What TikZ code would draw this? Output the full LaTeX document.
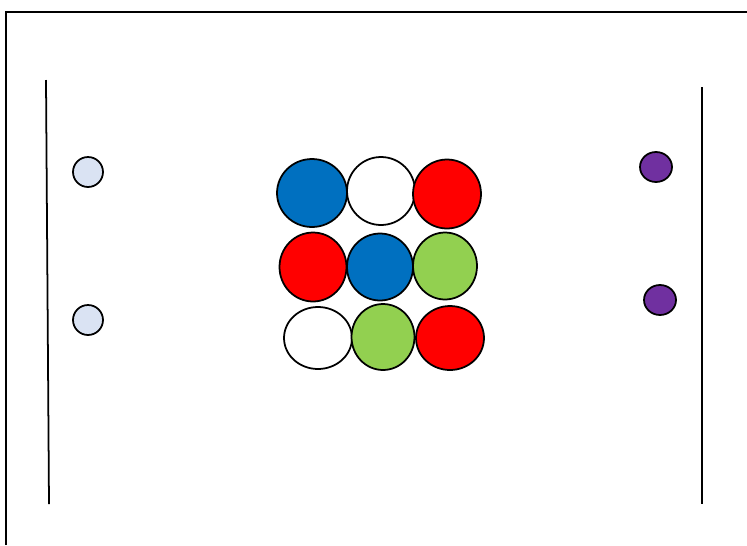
\documentclass[tikz,border=0pt]{standalone}
\usetikzlibrary{shapes.geometric}
\definecolor{bl}{RGB}{0,112,192}
\definecolor{rd}{RGB}{255,0,0}
\definecolor{gr}{RGB}{146,208,80}
\definecolor{pu}{RGB}{112,48,160}
\definecolor{lb}{RGB}{218,227,243}
\begin{document}
\begin{tikzpicture}[x=0.02cm,y=-0.02cm,
    ball/.style={ellipse,draw,line width=1pt,inner sep=0pt,minimum width=1.36cm,minimum height=1.36cm,fill=#1},
    dot/.style={ellipse,draw,line width=1pt,inner sep=0pt,minimum width=0.6cm,minimum height=0.6cm,fill=#1},
    wall/.style={line width=1pt},
]
\useasboundingbox (0,0) rectangle (747,545);
\draw[line width=0.9pt] (6,545) -- (6,12) -- (747,12);

% walls
\draw[wall] (46,80) -- (49,504);
\draw[wall] (702,87) -- (702,504);

% small particles
\node[dot=lb] (l1) at (88,172) {};
\node[dot=lb] (l2) at (88,320) {};
\node[dot=pu,minimum width=0.64cm] (r1) at (656,167) {};
\node[dot=pu,minimum width=0.64cm] (r2) at (660,300) {};

% grid of balls
\node[ball=bl,minimum width=1.4cm] (a1) at (312,193) {};
\node[ball=white] (a2) at (381,191) {};
\node[ball=rd,minimum height=1.38cm] (a3) at (447,194) {};

\node[ball=rd,minimum width=1.34cm,minimum height=1.38cm] (b1) at (313,267) {};
\node[ball=bl,minimum width=1.32cm,minimum height=1.34cm] (b2) at (380,267) {};
\node[ball=gr,minimum width=1.28cm,minimum height=1.34cm] (b3) at (445,266) {};

\node[ball=white,minimum height=1.24cm] (c1) at (318,338) {};
\node[ball=gr,minimum width=1.26cm,minimum height=1.32cm] (c2) at (383,337) {};
\node[ball=rd,minimum height=1.28cm] (c3) at (450,338) {};
\end{tikzpicture}
\end{document}
